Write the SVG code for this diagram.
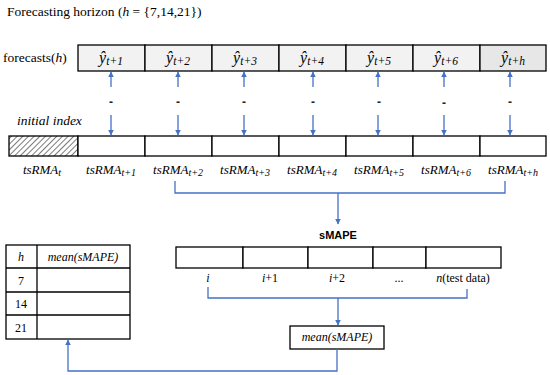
<svg xmlns="http://www.w3.org/2000/svg" width="550" height="375" viewBox="0 0 550 375">
<style>
.txt{font-family:"Liberation Serif",serif;font-size:13.5px;fill:#000}
.it{font-style:italic}
.math{font-family:"Liberation Serif",serif;font-style:italic;font-size:13px;fill:#000}
.yh{font-family:"Liberation Serif",serif;font-style:italic;font-size:16px;fill:#000;text-anchor:middle}
.ys{font-size:11.5px}
.sub{font-size:10px}
.cell{fill:#fff;stroke:#000;stroke-width:1.3}
.fc{fill:#f2f2f2;stroke:#000;stroke-width:1.3}
.con{fill:none;stroke:#4472c4;stroke-width:1.3}
.dash{font-family:"Liberation Sans",sans-serif;font-size:12px;font-weight:bold;fill:#222;text-anchor:middle}
.lbl{font-family:"Liberation Serif",serif;font-size:12px;fill:#000}
</style>
<defs>
<marker id="ah" viewBox="0 0 10 10" refX="9" refY="5" markerWidth="4.5" markerHeight="4.5" orient="auto" markerUnits="strokeWidth">
<path d="M0,0 L10,5 L0,10 z" fill="#4472c4"/>
</marker>
<pattern id="hatch" width="4" height="4" patternUnits="userSpaceOnUse" patternTransform="rotate(45)">
<rect width="4" height="4" fill="#fff"/>
<line x1="0" y1="0" x2="0" y2="4" stroke="#444" stroke-width="1.4"/>
</pattern>
</defs>
<rect width="550" height="375" fill="#fff"/>

<text class="txt" x="7" y="16">Forecasting horizon (<tspan class="it">h</tspan> = {7,14,21})</text>
<text class="txt" x="3" y="62">forecasts(<tspan class="it">h</tspan>)</text>
<text class="txt it" x="17" y="125">initial index</text>

<g id="forecasts">
<rect class="fc" x="78" y="45" width="67" height="26"/>
<rect class="fc" x="145" y="45" width="67" height="26"/>
<rect class="fc" x="212" y="45" width="67" height="26"/>
<rect class="fc" x="279" y="45" width="67" height="26"/>
<rect class="fc" x="346" y="45" width="67" height="26"/>
<rect class="fc" x="413" y="45" width="67" height="26"/>
<rect x="480" y="45" width="66" height="26" fill="#e7e7e7" stroke="#000" stroke-width="1.3"/>
<text class="yh" x="111" y="63">ŷ<tspan class="ys" dy="2">t+1</tspan></text>
<text class="yh" x="178" y="63">ŷ<tspan class="ys" dy="2">t+2</tspan></text>
<text class="yh" x="245" y="63">ŷ<tspan class="ys" dy="2">t+3</tspan></text>
<text class="yh" x="312" y="63">ŷ<tspan class="ys" dy="2">t+4</tspan></text>
<text class="yh" x="379" y="63">ŷ<tspan class="ys" dy="2">t+5</tspan></text>
<text class="yh" x="446" y="63">ŷ<tspan class="ys" dy="2">t+6</tspan></text>
<text class="yh" x="513" y="63">ŷ<tspan class="ys" dy="2">t+h</tspan></text>
</g>

<g id="series">
<rect x="9" y="136" width="69" height="20" fill="url(#hatch)" stroke="#000" stroke-width="1.3"/>
<rect class="cell" x="78" y="136" width="67" height="20"/>
<rect class="cell" x="145" y="136" width="67" height="20"/>
<rect class="cell" x="212" y="136" width="67" height="20"/>
<rect class="cell" x="279" y="136" width="67" height="20"/>
<rect class="cell" x="346" y="136" width="67" height="20"/>
<rect class="cell" x="413" y="136" width="67" height="20"/>
<rect class="cell" x="480" y="136" width="66" height="20"/>
<text class="math" x="42" y="174" text-anchor="middle">tsRMA<tspan class="sub" dy="2">t</tspan></text>
<text class="math" x="111" y="174" text-anchor="middle">tsRMA<tspan class="sub" dy="2">t+1</tspan></text>
<text class="math" x="178" y="174" text-anchor="middle">tsRMA<tspan class="sub" dy="2">t+2</tspan></text>
<text class="math" x="245" y="174" text-anchor="middle">tsRMA<tspan class="sub" dy="2">t+3</tspan></text>
<text class="math" x="312" y="174" text-anchor="middle">tsRMA<tspan class="sub" dy="2">t+4</tspan></text>
<text class="math" x="379" y="174" text-anchor="middle">tsRMA<tspan class="sub" dy="2">t+5</tspan></text>
<text class="math" x="446" y="174" text-anchor="middle">tsRMA<tspan class="sub" dy="2">t+6</tspan></text>
<text class="math" x="513" y="174" text-anchor="middle">tsRMA<tspan class="sub" dy="2">t+h</tspan></text>
</g>

<g id="dashes">
<text class="dash" x="111" y="106">-</text>
<text class="dash" x="178" y="106">-</text>
<text class="dash" x="244" y="106">-</text>
<text class="dash" x="313" y="106">-</text>
<text class="dash" x="379" y="106">-</text>
<text class="dash" x="444" y="107">-</text>
<text class="dash" x="510" y="106">-</text>
</g>

<g id="smape">
<text x="338" y="239" text-anchor="middle" font-family="Liberation Sans, sans-serif" font-weight="bold" font-size="11">sMAPE</text>
<rect class="cell" x="176" y="247" width="67" height="21"/>
<rect class="cell" x="243" y="247" width="65" height="21"/>
<rect class="cell" x="308" y="247" width="65" height="21"/>
<rect class="cell" x="373" y="247" width="53" height="21"/>
<rect class="cell" x="426" y="247" width="75" height="21"/>
<text class="lbl it" x="208" y="282" text-anchor="middle">i</text>
<text class="lbl" x="270" y="282" text-anchor="middle"><tspan class="it">i</tspan>+1</text>
<text class="lbl" x="337" y="282" text-anchor="middle"><tspan class="it">i</tspan>+2</text>
<text class="lbl" x="399" y="282" text-anchor="middle">...</text>
<text class="lbl" x="463" y="282" text-anchor="middle"><tspan class="it">n</tspan>(test data)</text>
</g>

<g id="mean">
<rect class="cell" x="290" y="326" width="94" height="23"/>
<text class="lbl it" x="337" y="341" text-anchor="middle">mean(sMAPE)</text>
</g>

<g id="table">
<rect class="cell" x="6" y="245" width="124" height="94"/>
<line x1="37" y1="245" x2="37" y2="339" stroke="#000" stroke-width="1.3"/>
<line x1="6" y1="268" x2="130" y2="268" stroke="#000" stroke-width="1.3"/>
<line x1="6" y1="292" x2="130" y2="292" stroke="#000" stroke-width="1.3"/>
<line x1="6" y1="315" x2="130" y2="315" stroke="#000" stroke-width="1.3"/>
<text class="lbl it" x="21" y="261" text-anchor="middle">h</text>
<text class="lbl it" x="83" y="261" text-anchor="middle">mean(sMAPE)</text>
<text class="lbl" x="21" y="285" text-anchor="middle">7</text>
<text class="lbl" x="21" y="308" text-anchor="middle">14</text>
<text class="lbl" x="21" y="332" text-anchor="middle">21</text>
</g>

<g id="connectors">
<line class="con" x1="111" y1="87" x2="111" y2="72" marker-end="url(#ah)"/>
<line class="con" x1="178" y1="87" x2="178" y2="72" marker-end="url(#ah)"/>
<line class="con" x1="244" y1="87" x2="244" y2="72" marker-end="url(#ah)"/>
<line class="con" x1="313" y1="87" x2="313" y2="72" marker-end="url(#ah)"/>
<line class="con" x1="378" y1="87" x2="378" y2="72" marker-end="url(#ah)"/>
<line class="con" x1="444" y1="87" x2="444" y2="72" marker-end="url(#ah)"/>
<line class="con" x1="510" y1="87" x2="510" y2="72" marker-end="url(#ah)"/>
<line class="con" x1="111" y1="115" x2="111" y2="135" marker-end="url(#ah)"/>
<line class="con" x1="178" y1="115" x2="178" y2="135" marker-end="url(#ah)"/>
<line class="con" x1="244" y1="115" x2="244" y2="135" marker-end="url(#ah)"/>
<line class="con" x1="313" y1="115" x2="313" y2="135" marker-end="url(#ah)"/>
<line class="con" x1="378" y1="115" x2="378" y2="135" marker-end="url(#ah)"/>
<line class="con" x1="444" y1="115" x2="444" y2="135" marker-end="url(#ah)"/>
<line class="con" x1="510" y1="115" x2="510" y2="135" marker-end="url(#ah)"/>
<path class="con" d="M175,181 V193 H505 V181"/>
<line class="con" x1="338" y1="193" x2="338" y2="224" marker-end="url(#ah)"/>
<path class="con" d="M208,287 V298 H467 V289"/>
<line class="con" x1="338" y1="298" x2="338" y2="325" marker-end="url(#ah)"/>
<path class="con" d="M337,349 V371 H68 V340" marker-end="url(#ah)"/>
</g>
</svg>
